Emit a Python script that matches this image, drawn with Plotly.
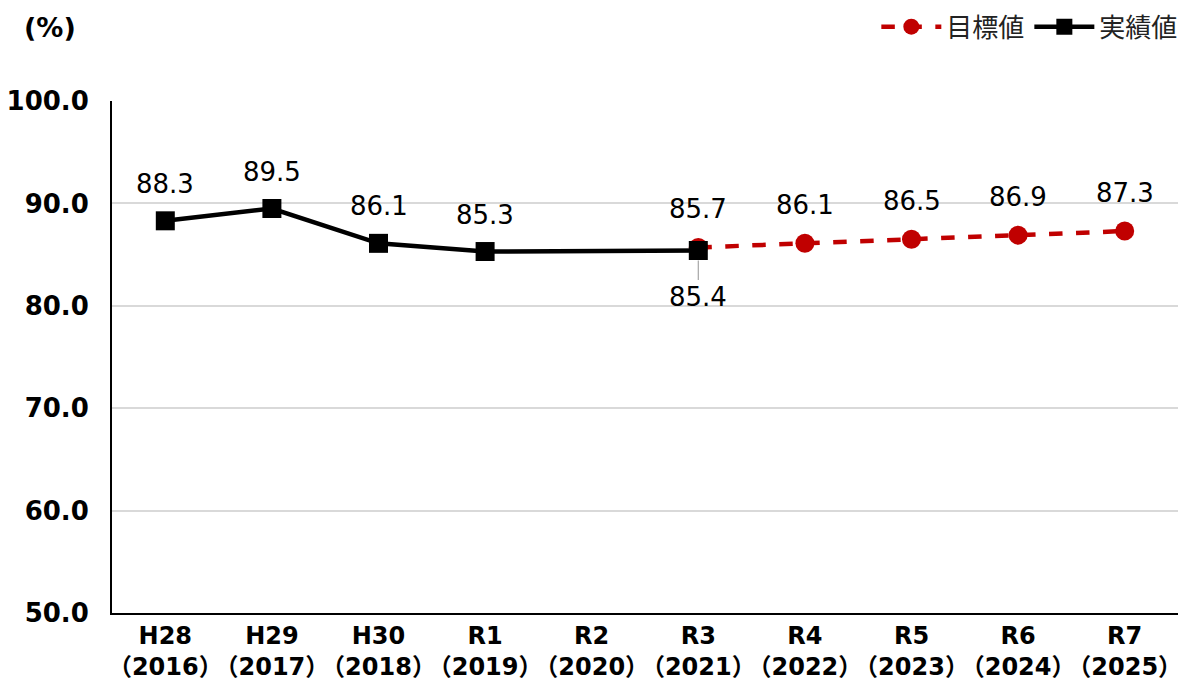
import plotly.graph_objects as go

categories = ["H28<br>（2016）", "H29<br>（2017）", "H30<br>（2018）", "R1<br>（2019）", "R2<br>（2020）",
              "R3<br>（2021）", "R4<br>（2022）", "R5<br>（2023）", "R6<br>（2024）", "R7<br>（2025）"]
actual = [88.3, 89.5, 86.1, 85.3, None, 85.4, None, None, None, None]
target = [None, None, None, None, None, 85.7, 86.1, 86.5, 86.9, 87.3]
y_ticks = [50, 60, 70, 80, 90, 100]

FONT = "DejaVu Sans, Noto Sans CJK JP"
CJK = "Noto Sans CJK JP"
fig = go.Figure()
fig.add_trace(go.Scatter(x=categories, y=target, name="目標値", mode="lines+markers",
                         line=dict(color="#c00000", width=4.5, dash="dash"),
                         marker=dict(symbol="circle", size=19, color="#c00000"),
                         legendrank=1))
fig.add_trace(go.Scatter(x=categories, y=actual, name="実績値", mode="lines+markers",
                         connectgaps=True,
                         line=dict(color="#000000", width=4.5),
                         marker=dict(symbol="square", size=19, color="#000000"),
                         legendrank=2))

LBL = dict(size=26, color="#000", family=FONT)
annotations = []
for c, v in zip(categories, actual):
    if v is None:
        continue
    if c.startswith("R3"):
        annotations.append(dict(x=c, y=v, text=f"{v:.1f}", showarrow=True, arrowhead=0,
                                arrowcolor="#a6a6a6", arrowwidth=1.2, ax=0, ay=46,
                                font=LBL, standoff=10))
    else:
        annotations.append(dict(x=c, y=v, text=f"{v:.1f}", showarrow=False, yshift=37,
                                font=LBL))
for c, v in zip(categories, target):
    if v is None:
        continue
    annotations.append(dict(x=c, y=v, text=f"{v:.1f}", showarrow=False, yshift=38, font=LBL))
annotations.append(dict(xref="paper", yref="paper", x=-0.058, y=1.143, text="(%)", showarrow=False,
                        xanchor="center", yanchor="middle",
                        font=dict(size=27, color="#000", family=FONT, weight="bold")))

fig.update_layout(
    width=1194, height=695,
    margin=dict(l=104, r=24, t=93, b=90, autoexpand=False),
    plot_bgcolor="white", paper_bgcolor="white",
    font=dict(family=FONT, color="#000"),
    showlegend=True,
    legend=dict(orientation="h", x=1.005, xanchor="right", y=1.145, yanchor="middle",
                font=dict(size=26, family=CJK, color="#222"), bgcolor="rgba(0,0,0,0)",
                tracegroupgap=0, itemwidth=60),
    xaxis=dict(showline=True, linecolor="#000", linewidth=2, showgrid=False, ticks="",
               tickangle=0, tickfont=dict(size=24, family=FONT, weight="bold"),
               range=[-0.5, 9.5]),
    yaxis=dict(range=[50, 100], tickvals=y_ticks, ticktext=[f"{t:.1f}" for t in y_ticks],
               showline=True, linecolor="#000", linewidth=2, showgrid=True,
               gridcolor="#d9d9d9", gridwidth=1.5, ticks="", zeroline=False,
               ticklabelstandoff=16,
               tickfont=dict(size=26, family=FONT, weight="bold")),
    annotations=annotations,
)
fig.write_html("out.html")
